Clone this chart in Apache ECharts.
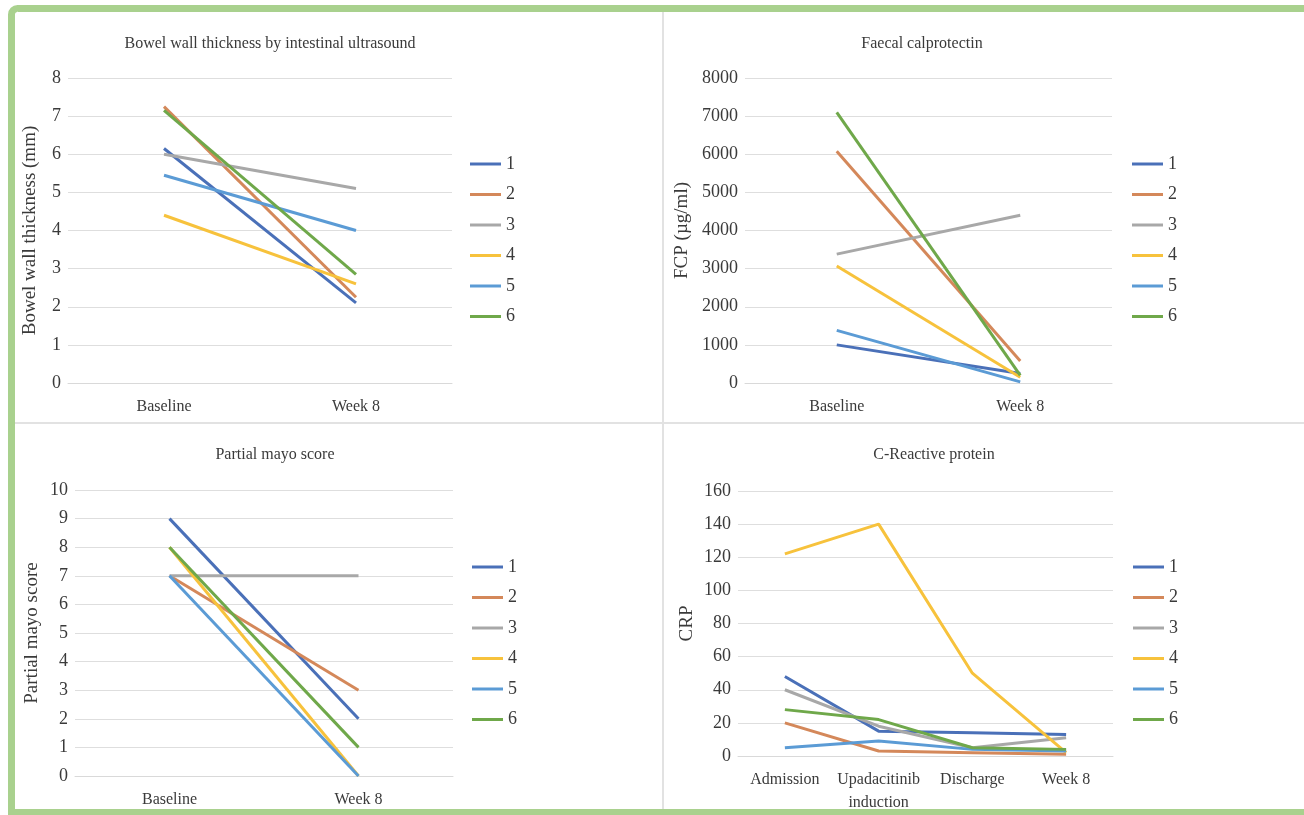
<!DOCTYPE html>
<html>
<head>
<meta charset="utf-8">
<title>Patient outcomes</title>
<script src="https://cdn.jsdelivr.net/npm/echarts@6/dist/echarts.min.js"></script>
<style>
  html, body { margin: 0; padding: 0; background: #fff; }
  #chart { width: 1304px; height: 815px; }
</style>
</head>
<body>
<div id="chart"></div>
<script>
// data
const patients = ["1", "2", "3", "4", "5", "6"];
const twoTimes = ["Baseline", "Week 8"];
const crpTimes = ["Admission", "Upadacitinib\ninduction", "Discharge", "Week 8"];

const bowelWall = [
  [6.15, 2.1],
  [7.25, 2.25],
  [6.0, 5.1],
  [4.4, 2.6],
  [5.45, 4.0],
  [7.15, 2.85]
];
const fcp = [
  [1000, 250],
  [6080, 580],
  [3380, 4400],
  [3070, 150],
  [1380, 30],
  [7100, 200]
];
const mayo = [
  [9, 2],
  [7, 3],
  [7, 7],
  [8, 0],
  [7, 0],
  [8, 1]
];
const crp = [
  [48, 15, 14, 13],
  [20, 3, 2, 1],
  [40, 18, 5, 11],
  [122, 140, 50, 2],
  [5, 9, 4, 3],
  [28, 22, 5, 4]
];

const colors = ["#4a70b8", "#d4885a", "#a8a8a8", "#f7c23c", "#5b9bd5", "#6fa84a"];
const font = "Liberation Serif";
const textColor = "#3a3a3a";

// panel layout
const panels = [
  { title: "Bowel wall thickness by intestinal ultrasound", name: "Bowel wall thickness (mm)",
    cats: twoTimes, data: bowelWall, max: 8, interval: 1, nameGap: 28,
    grid: { left: 68, top: 78, width: 384, height: 305 }, titleX: 265, titleY: 31, legendX: 470, legendY: 155 },
  { title: "Faecal calprotectin", name: "FCP (µg/ml)",
    cats: twoTimes, data: fcp, max: 8000, interval: 1000, nameGap: 53,
    grid: { left: 745, top: 78, width: 367, height: 305 }, titleX: 917, titleY: 31, legendX: 1132, legendY: 155 },
  { title: "Partial mayo score", name: "Partial mayo score",
    cats: twoTimes, data: mayo, max: 10, interval: 1, nameGap: 33,
    grid: { left: 75, top: 490, width: 378, height: 286 }, titleX: 270, titleY: 442, legendX: 472, legendY: 558 },
  { title: "C-Reactive protein", name: "CRP",
    cats: crpTimes, data: crp, max: 160, interval: 20, nameGap: 41,
    grid: { left: 738, top: 491, width: 375, height: 265 }, titleX: 929, titleY: 442, legendX: 1133, legendY: 558 }
];

const chart = echarts.init(document.getElementById("chart"));

const option = {
  animation: false,
  color: colors,
  textStyle: { fontFamily: font, color: textColor },
  title: [],
  legend: [],
  grid: [],
  xAxis: [],
  yAxis: [],
  series: [],
  graphic: [
    // green frame
    { type: "rect", shape: { x: 11.5, y: 8.5, width: 1400, height: 804, r: [6, 0, 0, 0] },
      style: { fill: null, stroke: "#a9d18e", lineWidth: 7 }, silent: true },
    // panel dividers
    { type: "line", shape: { x1: 663, y1: 12, x2: 663, y2: 809 },
      style: { stroke: "#e2e2e2", lineWidth: 2 }, silent: true },
    { type: "line", shape: { x1: 15, y1: 423, x2: 1304, y2: 423 },
      style: { stroke: "#e2e2e2", lineWidth: 2 }, silent: true }
  ]
};

panels.forEach((p, i) => {
  option.title.push({
    text: p.title, left: p.titleX, top: p.titleY, textAlign: "center",
    textStyle: { fontFamily: font, fontSize: 16, fontWeight: "normal", color: textColor }
  });
  option.legend.push({
    data: patients, orient: "vertical", left: p.legendX, top: p.legendY, padding: 0,
    icon: "rect", itemWidth: 31, itemHeight: 3, itemGap: 12.5,
    textStyle: { fontFamily: font, fontSize: 18, color: textColor }
  });
  option.grid.push(Object.assign({ containLabel: false }, p.grid));
  option.xAxis.push({
    type: "category", gridIndex: i, data: p.cats, boundaryGap: true,
    axisLine: { lineStyle: { color: "#d9d9d9" } }, axisTick: { show: false },
    axisLabel: { fontFamily: font, fontSize: 16, color: textColor, margin: 12, lineHeight: 23, interval: 0 }
  });
  option.yAxis.push({
    type: "value", gridIndex: i, min: 0, max: p.max, interval: p.interval,
    name: p.name, nameLocation: "middle", nameGap: p.nameGap,
    nameTextStyle: { fontFamily: font, fontSize: 19, color: textColor },
    axisLine: { show: false }, axisTick: { show: false },
    axisLabel: { fontFamily: font, fontSize: 18, color: textColor, margin: 7, formatter: v => String(v) },
    splitLine: { lineStyle: { color: "#dedede" } }
  });
  p.data.forEach((vals, k) => {
    option.series.push({
      type: "line", name: patients[k], xAxisIndex: i, yAxisIndex: i,
      data: vals, symbol: "none", lineStyle: { width: 3, color: colors[k] },
      itemStyle: { color: colors[k] }
    });
  });
});

chart.setOption(option);

window.addEventListener("resize", function () {
  chart.resize();
});
</script>
</body>
</html>
